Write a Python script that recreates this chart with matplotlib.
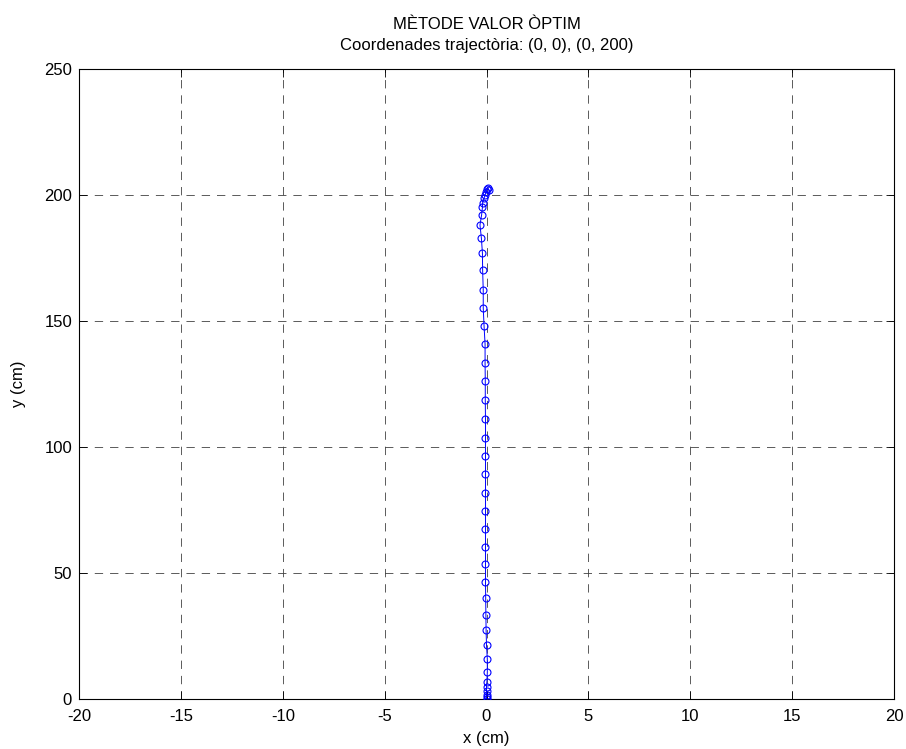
import matplotlib.pyplot as plt

plt.rcParams['font.family'] = ['Liberation Sans', 'DejaVu Sans']
plt.rcParams['axes.unicode_minus'] = False
plt.rcParams['lines.scale_dashes'] = False

# trajectory samples (cm)
x_pos = [0.0, 0.0, 0.0, 0.0, 0.0, 0.02, 0.04, 0.04, 0.0, -0.02, -0.03, -0.04, -0.05,
         -0.05, -0.05, -0.05, -0.05, -0.05, -0.05, -0.05, -0.05, -0.05, -0.06,
         -0.06, -0.07, -0.07, -0.12, -0.16, -0.16, -0.19, -0.2, -0.25, -0.32,
         -0.24, -0.2, -0.19, -0.12, -0.07, -0.02, 0.04, 0.09, 0.12]
y_pos = [0.0, 0.6, 1.6, 3.2, 4.9, 6.9, 10.6, 15.9, 21.3, 27.4, 33.3, 40.0, 46.5,
         53.6, 60.3, 67.5, 74.7, 81.9, 89.2, 96.4, 103.7, 111.0, 118.7,
         126.2, 133.3, 140.8, 148.0, 155.2, 162.3, 170.2, 176.9, 182.8, 188.1,
         192.1, 195.1, 197.0, 198.7, 200.0, 201.3, 202.2, 202.6, 201.8]

x_ticks = [-20, -15, -10, -5, 0, 5, 10, 15, 20]
y_ticks = [0, 50, 100, 150, 200, 250]

fig = plt.figure(figsize=(9.06, 7.49), dpi=100)
ax = fig.add_axes([79 / 906, 1 - 699 / 749, 815 / 906, 630 / 749])

ax.plot(x_pos, y_pos, '-o', color='blue', linewidth=0.7, markersize=5,
        markerfacecolor='none', markeredgewidth=0.8, zorder=3)

ax.set_xlim(-20, 20)
ax.set_ylim(0, 250)
ax.set_xticks(x_ticks)
ax.set_yticks(y_ticks)
ax.tick_params(direction='in', length=5.5, width=0.6, top=True, right=True,
               labelsize=12)
ax.tick_params(axis='x', pad=7)
ax.tick_params(axis='y', pad=5)
ax.grid(True, color='0.25', linestyle=(0, (6, 5)), linewidth=0.6)
for sp in ax.spines.values():
    sp.set_linewidth(0.8)

ax.set_xlabel('x (cm)', fontsize=12, labelpad=5)
ax.set_ylabel('y (cm)', fontsize=12, labelpad=13)
ax.set_title('MÈTODE VALOR ÒPTIM\nCoordenades trajectòria: (0, 0), (0, 200)',
             fontsize=12, pad=14, linespacing=1.45)

fig.savefig('out.png', dpi=100)
